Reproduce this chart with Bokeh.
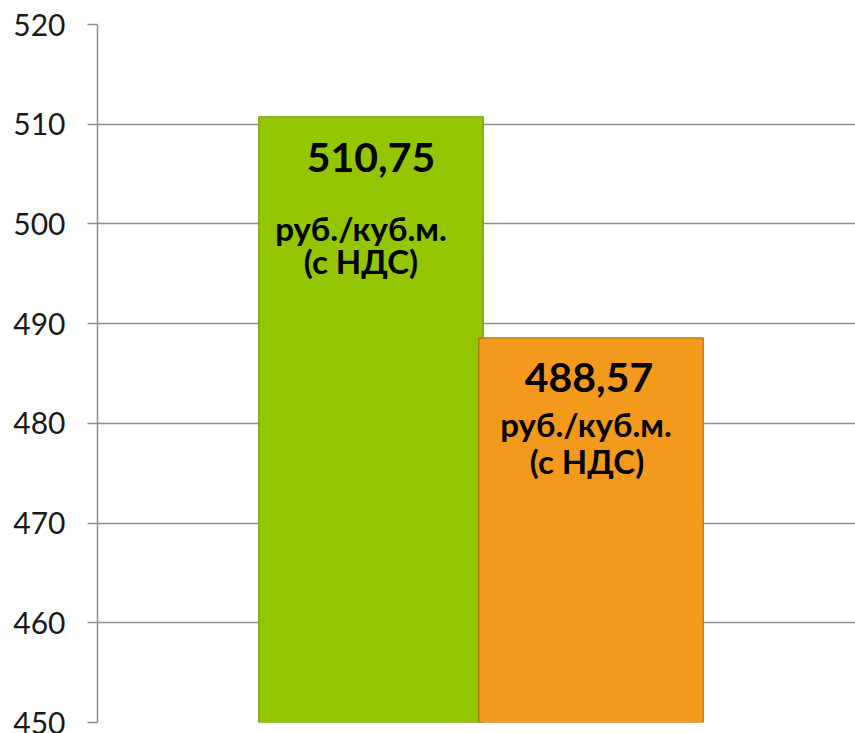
from bokeh.plotting import figure
from bokeh.models import Range1d, ColumnDataSource, FixedTicker
from bokeh.core.properties import value
from bokeh.embed import file_html
from bokeh.resources import INLINE

# ---- data ----
series = ["green", "orange"]
prices = [510.75, 488.57]
price_labels = ["510,75", "488,57"]
unit_line1 = ["руб./куб.м.", "руб./куб.м."]
unit_line2 = ["(с НДС)", "(с НДС)"]
y_ticks = [450, 460, 470, 480, 490, 500, 510, 520]

# ---- styles ----
fills = ["#93c600", "#f39a1d"]
edges = ["#6f9a00", "#b36f12"]
num_dx = [0, -2]
num_dy = [41, 40]
u1_dx = [-10, -5]
u1_dy = [111, 86]
u2_dx = [-10, -4]
u2_dy = [144, 123]

xs = list(range(len(series)))
src = ColumnDataSource(dict(x=xs, top=prices, fill=fills, edge=edges,
                            num=price_labels, u1=unit_line1, u2=unit_line2,
                            num_dx=num_dx, num_dy=num_dy, u1_dx=u1_dx, u1_dy=u1_dy,
                            u2_dx=u2_dx, u2_dy=u2_dy))

p = figure(width=855, height=733, output_backend="svg", toolbar_location=None,
           x_axis_type=None, x_range=Range1d(-1.243, 2.202),
           y_range=Range1d(450, 520),
           min_border_left=97, min_border_right=0, min_border_top=24,
           min_border_bottom=11)
p.outline_line_color = None
p.xgrid.visible = False
p.ygrid.grid_line_color = "#8e8e8e"
p.ygrid.grid_line_width = 1.5

ax = p.yaxis[0]
ax.ticker = FixedTicker(ticks=y_ticks)
ax.axis_line_color = "#8e8e8e"
ax.axis_line_width = 1.5
ax.major_tick_line_color = "#8e8e8e"
ax.major_tick_line_width = 1.5
ax.major_tick_out = 10
ax.major_tick_in = 0
ax.minor_tick_line_color = None
ax.major_label_standoff = 22
ax.major_label_text_font = "Lato"
ax.major_label_text_font_size = "30px"
ax.major_label_text_color = "#1a1a1a"

p.vbar(x="x", top="top", bottom=450, width=1.02, source=src,
       fill_color="fill", line_color="edge", line_width=1.2)

p.text(x="x", y="top", text="num", source=src, x_offset="num_dx", y_offset="num_dy",
       text_font=value("Lato"), text_font_style="bold", text_font_size="41px",
       text_align="center", text_baseline="middle", text_color="#000000")
p.text(x="x", y="top", text="u1", source=src, x_offset="u1_dx", y_offset="u1_dy",
       text_font=value("Lato"), text_font_style="bold", text_font_size="33px",
       text_align="center", text_baseline="middle", text_color="#000000")
p.text(x="x", y="top", text="u2", source=src, x_offset="u2_dx", y_offset="u2_dy",
       text_font=value("Lato"), text_font_style="bold", text_font_size="33px",
       text_align="center", text_baseline="middle", text_color="#000000")

open("out.html", "w").write(file_html(p, INLINE))
